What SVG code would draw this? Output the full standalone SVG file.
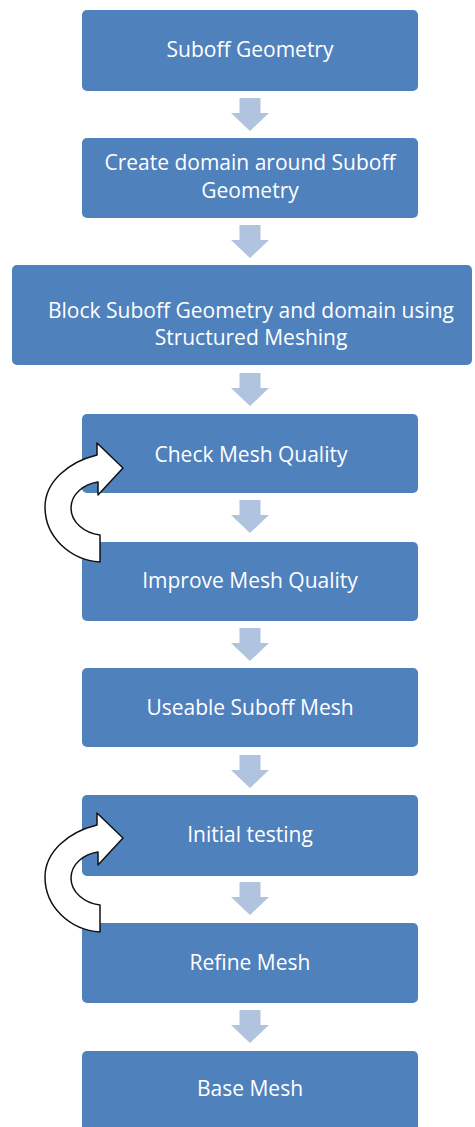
<svg xmlns="http://www.w3.org/2000/svg" width="475" height="1127" viewBox="0 0 475 1127">
<defs>
<style>
.box{fill:#4F81BD;}
.lbl{fill:#FFFFFF;font-family:"Open Sans","Liberation Sans",sans-serif;font-size:21px;text-anchor:middle;}
.down{fill:#B0C3DF;}
.loop{fill:#FFFFFF;stroke:#111111;stroke-width:1.5;stroke-linejoin:round;}
</style>
<path id="dn" d="M-10.5,0 H10.5 V15 H19 L0,33 L-19,15 H-10.5 Z"/>
<path id="lp" d="M97,455 C68,462 45,482 45,507 C45,537 70,560 100,562 L100,535 C84,533 71,522 71,508 C71,494 84,484 98,482 L98,495 L123,468 L97,443 Z"/>
</defs>
<rect width="475" height="1127" fill="#FFFFFF"/>
<g id="connectors">
<use href="#dn" class="down" x="250" y="98"/>
<use href="#dn" class="down" x="250" y="225"/>
<use href="#dn" class="down" x="250" y="373"/>
<use href="#dn" class="down" x="250" y="500"/>
<use href="#dn" class="down" x="250" y="628"/>
<use href="#dn" class="down" x="250" y="755"/>
<use href="#dn" class="down" x="250" y="882"/>
<use href="#dn" class="down" x="250" y="1010"/>
</g>
<g id="n1"><rect class="box" x="82" y="10" width="336" height="81" rx="5"/><text class="lbl" x="250" y="57">Suboff Geometry</text></g>
<g id="n2"><rect class="box" x="82" y="138" width="336" height="80" rx="5"/><text class="lbl" x="250" y="170">Create domain around Suboff</text><text class="lbl" x="250" y="198">Geometry</text></g>
<g id="n3"><rect class="box" x="12" y="265" width="460" height="100" rx="5"/><text class="lbl" x="251" y="318">Block Suboff Geometry and domain using</text><text class="lbl" x="251" y="345">Structured Meshing</text></g>
<g id="n4"><rect class="box" x="82" y="414" width="336" height="79" rx="5"/><text class="lbl" x="251" y="462">Check Mesh Quality</text></g>
<g id="n5"><rect class="box" x="82" y="542" width="336" height="79" rx="5"/><text class="lbl" x="250" y="588">Improve Mesh Quality</text></g>
<g id="n6"><rect class="box" x="82" y="668" width="336" height="79" rx="5"/><text class="lbl" x="250" y="715">Useable Suboff Mesh</text></g>
<g id="n7"><rect class="box" x="82" y="795" width="336" height="81" rx="5"/><text class="lbl" x="250" y="842">Initial testing</text></g>
<g id="n8"><rect class="box" x="82" y="923" width="336" height="80" rx="5"/><text class="lbl" x="250" y="970">Refine Mesh</text></g>
<g id="n9"><rect class="box" x="82" y="1051" width="336" height="82" rx="5"/><text class="lbl" x="250" y="1096">Base Mesh</text></g>
<g id="loop1"><use href="#lp" class="loop"/></g>
<g id="loop2"><use href="#lp" class="loop" y="370"/></g>
</svg>
